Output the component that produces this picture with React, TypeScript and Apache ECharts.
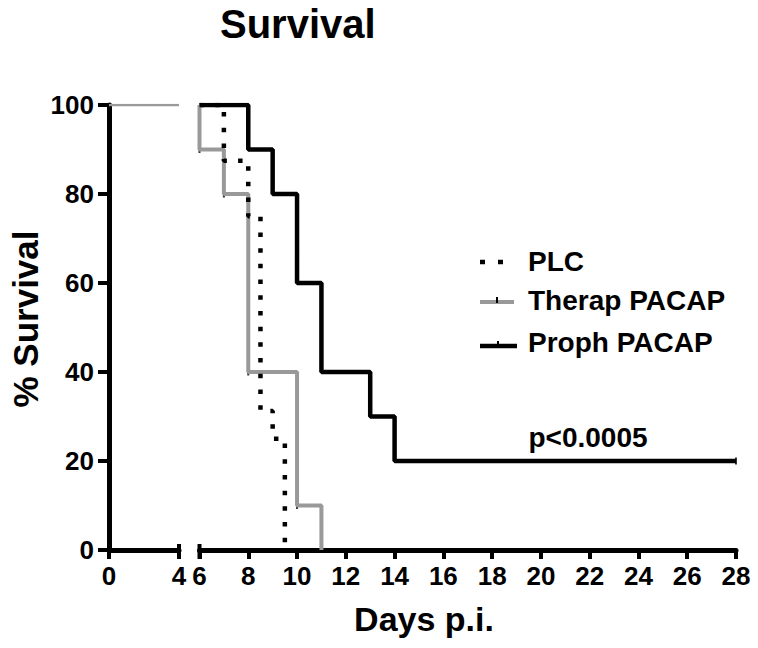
import React, { useEffect, useRef } from "react";
import * as echarts from "echarts";

const FONT = "'Liberation Sans', Arial, Helvetica, sans-serif";

// Segment 1 (before axis break)
const earlyDays = [0, 4];
const earlySurvival = [100, 100];

// Segment 2 (after axis break) – Kaplan-Meier steps: [day, % survival]
const prophDays = [6, 8, 9, 10, 11, 13, 14, 28];
const prophSurv = [100, 90, 80, 60, 40, 30, 20, 20];

const therapDays = [6, 6, 7, 8, 10, 11];
const therapSurv = [100, 90, 80, 40, 10, 0];

const plcDays = [6, 7, 8, 8.5, 9, 9.5];
const plcSurv = [100, 87.5, 75, 31.25, 25, 0];

// censor tick marks
const therapCensorDays = [6, 7, 8, 10];
const therapCensorSurv = [90, 80, 40, 10];
const prophCensorDays = [28];
const prophCensorSurv = [20];

const yTicks = [0, 20, 40, 60, 80, 100];
const seriesNames = ["PLC", "Therap PACAP", "Proph PACAP"];

const zip = (a: number[], b: number[]) => a.map((v, i) => [v, b[i]]);

export default function App() {
  const ref = useRef<HTMLDivElement>(null);
  useEffect(() => {
    if (!ref.current) return;
    const chart = echarts.init(ref.current, null, { renderer: "svg" });
    const axisLabel = {
      fontFamily: FONT,
      fontWeight: "bold" as const,
      fontSize: 26,
      color: "#000",
    };
    const xCommon = {
      type: "value" as const,
      splitLine: { show: false },
      axisLine: { show: true, lineStyle: { color: "#000", width: 5 } },
      axisTick: { show: true, length: 9, lineStyle: { color: "#000", width: 4 } },
      axisLabel: { ...axisLabel, margin: 13 },
    };
    chart.setOption({
      animation: false,
      title: {
        text: "Survival",
        left: 215,
        top: -1,
        textStyle: { fontFamily: FONT, fontWeight: "bold", fontSize: 40, color: "#000" },
      },
      grid: [
        { left: 109, width: 70, top: 105, height: 445 },
        { left: 199.5, width: 536.5, top: 105, height: 445 },
      ],
      xAxis: [
        { ...xCommon, gridIndex: 0, min: 0, max: 4, interval: 4 },
        { ...xCommon, gridIndex: 1, min: 6, max: 28, interval: 2 },
      ],
      yAxis: [
        {
          type: "value",
          gridIndex: 0,
          min: yTicks[0],
          max: yTicks[yTicks.length - 1],
          interval: 20,
          splitLine: { show: false },
          axisLine: { show: true, lineStyle: { color: "#000", width: 5 } },
          axisTick: { show: true, length: 11, lineStyle: { color: "#000", width: 4 } },
          axisLabel: { ...axisLabel, margin: 15 },
        },
        {
          type: "value",
          gridIndex: 1,
          min: 0,
          max: 100,
          interval: 20,
          show: false,
        },
      ],
      series: [
        {
          name: "early",
          type: "line",
          xAxisIndex: 0,
          yAxisIndex: 0,
          data: zip(earlyDays, earlySurvival),
          showSymbol: false,
          lineStyle: { color: "#9a9a9a", width: 2.5 },
          silent: true,
        },
        {
          name: seriesNames[2],
          type: "line",
          step: "end",
          xAxisIndex: 1,
          yAxisIndex: 1,
          data: zip(prophDays, prophSurv),
          showSymbol: false,
          lineStyle: { color: "#000", width: 4.5, cap: "butt" },
        },
        {
          name: seriesNames[1],
          type: "line",
          step: "end",
          xAxisIndex: 1,
          yAxisIndex: 1,
          data: zip(therapDays, therapSurv),
          showSymbol: false,
          lineStyle: { color: "#999999", width: 4 },
        },
        {
          name: seriesNames[0],
          type: "line",
          step: "end",
          xAxisIndex: 1,
          yAxisIndex: 1,
          data: zip(plcDays, plcSurv),
          showSymbol: false,
          lineStyle: { color: "#000", width: 4.5, type: [4.5, 11.2], cap: "butt" },
        },
        {
          name: "censor",
          type: "scatter",
          xAxisIndex: 1,
          yAxisIndex: 1,
          data: [...zip(therapCensorDays, therapCensorSurv), ...zip(prophCensorDays, prophCensorSurv)],
          symbol: "rect",
          symbolSize: [2, 7],
          itemStyle: { color: "#000" },
          silent: true,
        },
      ],
    });

    // axis-break bars, legend, annotation and axis titles
    const p4 = chart.convertToPixel({ xAxisIndex: 0 }, 4) as number;
    const p6 = chart.convertToPixel({ xAxisIndex: 1 }, 6) as number;
    const y0 = chart.convertToPixel({ yAxisIndex: 0 }, 0) as number;
    const bar = (x: number) => ({
      type: "line",
      shape: { x1: x, y1: y0 - 6, x2: x, y2: y0 + 9 },
      style: { stroke: "#000", lineWidth: 4 },
    });
    const boldText = (x: number, y: number, t: string, size: number, align: string) => ({
      type: "text",
      x,
      y,
      style: {
        text: t,
        fontFamily: FONT,
        fontWeight: "bold",
        fontSize: size,
        fill: "#000",
        verticalAlign: "middle",
        align,
      },
    });
    chart.setOption({
      graphic: [
        bar(p4),
        bar(p6),
        {
          type: "line",
          shape: { x1: 480, y1: 262, x2: 504, y2: 262 },
          style: { stroke: "#000", lineWidth: 4.5, lineDash: [5, 13] },
        },
        boldText(528, 261, seriesNames[0], 28, "left"),
        {
          type: "line",
          shape: { x1: 480, y1: 302, x2: 514, y2: 302 },
          style: { stroke: "#999999", lineWidth: 4 },
        },
        {
          type: "rect",
          shape: { x: 496, y: 297, width: 2, height: 6 },
          style: { fill: "#000" },
        },
        boldText(528, 300, seriesNames[1], 28, "left"),
        {
          type: "line",
          shape: { x1: 480, y1: 346, x2: 517, y2: 346 },
          style: { stroke: "#000", lineWidth: 4.5 },
        },
        {
          type: "rect",
          shape: { x: 497, y: 341, width: 2, height: 6 },
          style: { fill: "#000" },
        },
        boldText(528, 342, seriesNames[2], 28, "left"),
        boldText(588, 437, "p<0.0005", 28, "center"),
        boldText(424, 619, "Days p.i.", 34, "center"),
        {
          ...boldText(0, 0, "% Survival", 35, "center"),
          x: 25,
          y: 319,
          rotation: Math.PI / 2,
        },
      ],
    });
    return () => chart.dispose();
  }, []);
  return (
    <div
      ref={ref}
      style={{ position: "fixed", left: 0, top: 0, width: 758, height: 648, background: "#fff" }}
    />
  );
}
